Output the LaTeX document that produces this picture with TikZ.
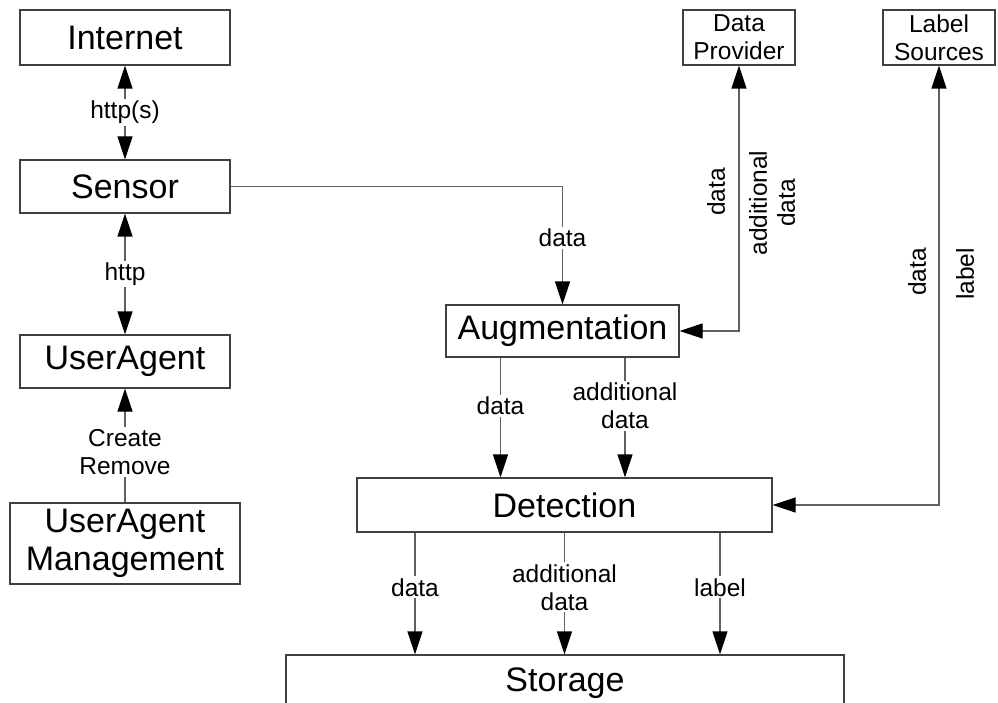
\documentclass[tikz,border=0pt]{standalone}
\usepackage{fontspec}
\setmainfont{Liberation Sans}
\usetikzlibrary{arrows.meta,calc}
\definecolor{boxgray}{HTML}{404040}
\definecolor{linegray}{HTML}{606060}
\tikzset{
  box/.style={draw=boxgray, line width=1.3pt, fill=white, align=center, inner sep=0pt,
    font=\fontsize{34}{38}\selectfont},
  sbox/.style={box, font=\fontsize{24.5}{28}\selectfont},
  conn/.style={draw=linegray, line width=1.3pt},
  lbl/.style={fill=white, inner sep=2pt, align=center, font=\fontsize{24.5}{28}\selectfont},
  rlbl/.style={inner sep=0pt, align=center, rotate=90, font=\fontsize{24.5}{28}\selectfont},
  tipend/.style={-{Triangle[length=23pt,width=15pt,color=black]}},
  tipboth/.style={{Triangle[length=23pt,width=15pt,color=black]}-{Triangle[length=23pt,width=15pt,color=black]}}
}
\begin{document}
\begin{tikzpicture}[x=1pt,y=-1pt]
\useasboundingbox (0,0) rectangle (998,703);
\clip (0,0) rectangle (998,703);
% boxes
\node[box, minimum width=210, minimum height=55] (inet) at (125,37.5) {Internet};
\node[box, minimum width=210, minimum height=53] (sensor) at (125,186.5) {Sensor};
\node[box, minimum width=210, minimum height=53] (ua) at (125,361.5) {UserAgent};
\node[box, minimum width=230, minimum height=81] (uam) at (125,543.5) {UserAgent\\Management};
\node[sbox, minimum width=112, minimum height=55] (dp) at (739,37.5) {Data\\Provider};
\node[sbox, minimum width=112, minimum height=55] (ls) at (939,37.5) {Label\\Sources};
\node[box, minimum width=233, minimum height=52] (aug) at (562.5,331) {Augmentation};
\node[box, minimum width=415, minimum height=54] (det) at (564.5,505) {Detection};
\node[box, minimum width=558, minimum height=56] (st) at (565,683) {Storage};
% left column
\draw[conn, tipboth] (inet) -- (sensor) node[lbl, midway] (l1) {http(s)};
\draw[conn, tipboth] (sensor) -- (ua) node[lbl, midway] (l2) {http};
\draw[conn, tipend] (uam) -- (ua);
\node[lbl] (l3) at (125,452) {Create\\Remove};
% sensor to augmentation
\draw[conn, tipend] (sensor.east) -| (aug.north);
\node[lbl] (l4) at (562.5,238) {data};
% data provider
\draw[conn, tipboth] (dp.south) |- (aug.east);
\node[rlbl] (l5) at (716,192) {data};
\node[rlbl] (l6) at (772,203) {additional\\data};
% label sources
\draw[conn, tipboth] (ls.south) |- (det.east);
\node[rlbl] (l7) at (917,272) {data};
\node[rlbl] (l8) at (965,274) {label};
% augmentation to detection
\coordinate (a1) at ([xshift=-62pt]aug.south);
\coordinate (a2) at ([xshift=62.5pt]aug.south);
\draw[conn, tipend] (a1) -- (a1 |- det.north) node[lbl, pos=0.4] (l9) {data};
\draw[conn, tipend] (a2) -- (a2 |- det.north) node[lbl, pos=0.4] (l10) {additional\\data};
% detection to storage
\coordinate (d1) at ([xshift=-149.5pt]det.south);
\coordinate (d2) at ([xshift=0pt]det.south);
\coordinate (d3) at ([xshift=155.5pt]det.south);
\draw[conn, tipend] (d1) -- (d1 |- st.north) node[lbl, pos=0.45] (l11) {data};
\draw[conn, tipend] (d2) -- (d2 |- st.north) node[lbl, pos=0.45] (l12) {additional\\data};
\draw[conn, tipend] (d3) -- (d3 |- st.north) node[lbl, pos=0.45] (l13) {label};
\end{tikzpicture}
\end{document}
